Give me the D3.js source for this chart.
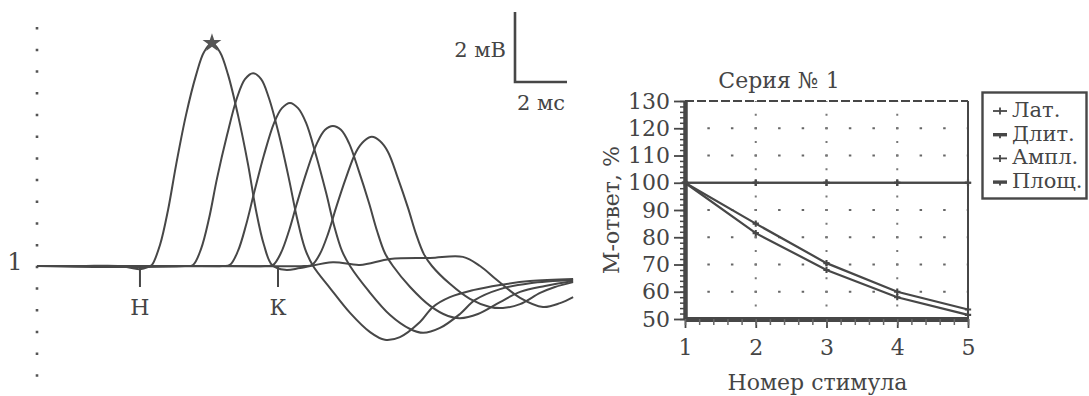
<!DOCTYPE html>
<html>
<head>
<meta charset="utf-8">
<script src="https://cdn.jsdelivr.net/npm/d3@7"></script>
<style>
  html, body { margin: 0; padding: 0; background: #fff; }
  svg { display: block; font-family: "DejaVu Serif", "Liberation Serif", serif; }
  text { fill: #454545; }
</style>
</head>
<body>
<svg id="chart" width="1089" height="396"></svg>
<script>
// ---- M-wave traces for stimuli 1..5: [time, ms ; potential, mV] ----
const wave1 = [[0,0],[1.65,0],[3.19,0],[3.65,-0.06],[3.96,-0.09],[4.27,-0.03],[4.42,0.03],[4.73,0.6],[5.04,1.6],[5.35,2.89],[5.73,4.31],[6.12,5.46],[6.42,6.11],[6.73,6.37],[7.04,6.11],[7.35,5.46],[7.73,4.31],[8.12,2.89],[8.42,1.6],[8.73,0.6],[9.04,0.03],[9.54,-0.11],[10.12,-0.06],[11.38,0.11],[12.42,0.03],[13.58,0.2],[15.12,0.23],[16.38,0.26],[17.04,0],[17.69,-0.4],[18.58,-0.91],[19.46,-1.17],[20.12,-1.06],[20.62,-0.89]];
const wave2 = [[0,0],[3.19,-0.03],[5.69,0],[6.0,0.03],[6.31,0.49],[6.62,1.37],[6.92,2.49],[7.31,3.74],[7.69,4.8],[8.0,5.34],[8.31,5.51],[8.62,5.34],[8.92,4.8],[9.31,3.74],[9.69,2.49],[10.0,1.37],[10.31,0.49],[10.62,0],[11.27,-0.63],[12.04,-1.34],[12.81,-1.89],[13.38,-2.11],[13.96,-2.03],[14.73,-1.6],[15.23,-1.17],[15.88,-0.89],[16.77,-0.69],[17.81,-0.54],[18.96,-0.43],[20.62,-0.37]];
const wave3 = [[0,0],[4.73,0],[7.12,0],[7.42,0.03],[7.73,0.43],[8.04,1.17],[8.35,2.09],[8.73,3.17],[9.12,4.09],[9.42,4.51],[9.73,4.66],[10.04,4.51],[10.35,4.09],[10.73,3.17],[11.12,2.09],[11.42,1.17],[11.73,0.43],[12.04,0],[12.73,-0.69],[13.58,-1.4],[14.35,-1.8],[14.85,-1.91],[15.5,-1.77],[16.27,-1.37],[16.85,-0.97],[17.81,-0.66],[18.96,-0.49],[20.62,-0.4]];
const wave4 = [[0,0],[6.27,0],[8.77,0],[9.08,0.03],[9.38,0.37],[9.69,1.0],[10.0,1.8],[10.38,2.71],[10.77,3.51],[11.08,3.89],[11.38,4.0],[11.69,3.89],[12.0,3.51],[12.38,2.71],[12.77,1.8],[13.08,1.0],[13.38,0.37],[13.69,0],[14.35,-0.6],[15.12,-1.14],[15.81,-1.43],[16.27,-1.49],[16.96,-1.37],[17.81,-1.03],[18.58,-0.74],[19.54,-0.57],[20.62,-0.43]];
const wave5 = [[0,0],[7.42,0],[10.27,0],[10.58,0.03],[10.88,0.34],[11.19,0.91],[11.5,1.66],[11.88,2.51],[12.27,3.26],[12.58,3.57],[12.88,3.69],[13.19,3.57],[13.5,3.26],[13.88,2.51],[14.27,1.66],[14.58,0.91],[14.88,0.34],[15.19,0],[15.88,-0.51],[16.65,-0.94],[17.42,-1.17],[17.92,-1.2],[18.58,-1.09],[19.35,-0.77],[19.92,-0.6],[20.62,-0.46]];
const traces = [wave1, wave2, wave3, wave4, wave5];
const traceLabel = "1";
const phaseMarks = [{ label: "Н", t: 3.96 }, { label: "К", t: 9.27 }];
const scaleBar = { mV: 2, ms: 2, mVLabel: "2 мВ", msLabel: "2 мс" };

// ---- Decrement test, series 1: % of first response ----
const stimuli = [1, 2, 3, 4, 5];
const latency = [100, 100, 100, 100, 100];
const duration = [100, 100, 100, 100, 100];
const amplitude = [100, 85, 70.5, 60, 53.5];
const area = [100, 81.5, 68, 58, 51.5];
const seriesNames = ["Лат.", "Длит.", "Ампл.", "Площ."];
const yTickValues = [50, 60, 70, 80, 90, 100, 110, 120, 130];
const xTickValues = [1, 2, 3, 4, 5];
const chartTitle = "Серия № 1";
const xTitle = "Номер стимула";
const yTitle = "М-ответ, %";

const ink = "#474747";
const svg = d3.select("#chart");

// ================= left panel: overlaid M-responses =================
const tx = d3.scaleLinear().domain([0, 2]).range([37, 89]);     // 26 px per ms
const vy = d3.scaleLinear().domain([0, 2]).range([266, 196]);   // 35 px per mV
const left = svg.append("g");

// dotted reference axis
left.append("line")
  .attr("x1", tx(0)).attr("x2", tx(0))
  .attr("y1", vy(6.83)).attr("y2", vy(-3.25))
  .attr("stroke", "#555").attr("stroke-width", 2.6)
  .attr("stroke-dasharray", "2.5 19.2");

const traceLine = d3.line()
  .x(d => tx(d[0])).y(d => vy(d[1]))
  .curve(d3.curveCatmullRom.alpha(0.5));

left.selectAll("path.trace").data(traces).join("path")
  .attr("class", "trace")
  .attr("d", traceLine)
  .attr("fill", "none")
  .attr("stroke", ink)
  .attr("stroke-width", 2)
  .attr("stroke-linejoin", "round");

// star at the peak of the first response
const peak = d3.greatest(wave1, d => d[1]);
left.append("path")
  .attr("d", d3.symbol(d3.symbolStar, 110)())
  .attr("transform", `translate(${tx(peak[0])},${vy(peak[1])})`)
  .attr("fill", "#555");

// onset / end marks
const marks = left.selectAll("g.mark").data(phaseMarks).join("g")
  .attr("class", "mark")
  .attr("transform", d => `translate(${tx(d.t)},0)`);
marks.append("line")
  .attr("y1", vy(0)).attr("y2", vy(-0.6))
  .attr("stroke", ink).attr("stroke-width", 2);
marks.append("text")
  .attr("y", vy(-1.4))
  .attr("text-anchor", "middle")
  .attr("font-size", 22)
  .text(d => d.label);

left.append("text")
  .attr("x", 15).attr("y", vy(0) + 4)
  .attr("text-anchor", "middle")
  .attr("font-size", 24)
  .text(traceLabel);

// calibration bar
const barX = 515, barY = 82;
left.append("path")
  .attr("d", `M${barX},${barY - (vy(0) - vy(scaleBar.mV))}V${barY}H${barX + (tx(scaleBar.ms) - tx(0))}`)
  .attr("fill", "none").attr("stroke", ink).attr("stroke-width", 2.6);
left.append("text")
  .attr("x", barX - 9).attr("y", 57)
  .attr("text-anchor", "end").attr("font-size", 21)
  .text(scaleBar.mVLabel);
left.append("text")
  .attr("x", barX + 2).attr("y", 110)
  .attr("font-size", 21)
  .text(scaleBar.msLabel);

// ================= right panel: decrement plot =================
const xs = d3.scaleLinear().domain([1, 5]).range([685, 968]);
const ys = d3.scaleLinear().domain([50, 130]).range([319, 101]);
const right = svg.append("g");

// dotted grid
const hStep = (xs(2) - xs(1)) / 3;
const vStep = ys(50) - ys(55);
right.selectAll("line.hgrid").data(yTickValues.filter(v => v !== 50 && v !== 100 && v !== 130)).join("line")
  .attr("class", "hgrid")
  .attr("x1", xs(1)).attr("x2", xs(5))
  .attr("y1", d => ys(d)).attr("y2", d => ys(d))
  .attr("stroke", "#666").attr("stroke-width", 2.2)
  .attr("stroke-dasharray", `2.5 ${hStep - 2.5}`)
  .attr("stroke-dashoffset", 1.25);
right.selectAll("line.vgrid").data([2, 3, 4, 5]).join("line")
  .attr("class", "vgrid")
  .attr("x1", d => xs(d)).attr("x2", d => xs(d))
  .attr("y1", ys(50)).attr("y2", ys(130))
  .attr("stroke", "#777").attr("stroke-width", 2)
  .attr("stroke-dasharray", `2 ${vStep - 2}`)
  .attr("stroke-dashoffset", 1);

// frame: dashed top, solid right
right.append("line")
  .attr("x1", xs(1)).attr("x2", xs(5)).attr("y1", ys(130)).attr("y2", ys(130))
  .attr("stroke", ink).attr("stroke-width", 2.2).attr("stroke-dasharray", "9 3");
right.append("line")
  .attr("x1", xs(5)).attr("x2", xs(5)).attr("y1", ys(130)).attr("y2", ys(50))
  .attr("stroke", ink).attr("stroke-width", 2);

// y axis with dense minor ticks
const yAxis = right.append("g").attr("transform", `translate(${xs(1)},0)`)
  .call(d3.axisLeft(ys).tickValues(yTickValues).tickSize(11).tickSizeOuter(0).tickPadding(4));
yAxis.select(".domain").attr("stroke", ink).attr("stroke-width", 4.5);
yAxis.selectAll(".tick line").attr("stroke", ink).attr("stroke-width", 1.8);
yAxis.selectAll("text").attr("font-size", 22).attr("font-family", "DejaVu Serif").attr("fill", "#454545");
right.append("g").attr("transform", `translate(${xs(1)},0)`)
  .call(d3.axisLeft(ys).tickValues(d3.range(50, 131, 2)).tickSize(5).tickFormat(""))
  .call(g => g.select(".domain").remove())
  .selectAll("line").attr("stroke", ink).attr("stroke-width", 1.5);

// x axis with minor ticks
const xAxis = right.append("g").attr("transform", `translate(0,${ys(50)})`)
  .call(d3.axisBottom(xs).tickValues(xTickValues).tickFormat(d3.format("d"))
    .tickSize(9).tickSizeOuter(0).tickPadding(11));
xAxis.select(".domain").attr("stroke", ink).attr("stroke-width", 5);
xAxis.selectAll(".tick line").attr("stroke", ink).attr("stroke-width", 1.8);
xAxis.selectAll("text").attr("font-size", 22).attr("font-family", "DejaVu Serif").attr("fill", "#454545");
right.append("g").attr("transform", `translate(0,${ys(50)})`)
  .call(d3.axisBottom(xs).tickValues(d3.range(1, 5.01, 0.2)).tickSize(6).tickFormat(""))
  .call(g => g.select(".domain").remove())
  .selectAll("line").attr("stroke", "#666").attr("stroke-width", 1.5);

// series lines
const seriesData = [latency, duration, amplitude, area].map((vals, i) => ({
  name: seriesNames[i],
  points: stimuli.map((s, j) => [s, vals[j]])
}));
const seriesLine = d3.line().x(d => xs(d[0])).y(d => ys(d[1]));
right.selectAll("path.series").data(seriesData).join("path")
  .attr("class", "series")
  .attr("d", d => seriesLine(d.points))
  .attr("fill", "none").attr("stroke", ink).attr("stroke-width", 2.2);
right.selectAll("g.pts").data(seriesData).join("g")
  .attr("class", "pts")
  .selectAll("path").data(d => d.points).join("path")
  .attr("d", d3.symbol(d3.symbolCross, 22)())
  .attr("transform", d => `translate(${xs(d[0])},${ys(d[1])})`)
  .attr("fill", ink);

// titles
right.append("text")
  .attr("x", 779).attr("y", 88)
  .attr("text-anchor", "middle").attr("font-size", 22)
  .text(chartTitle);
right.append("text")
  .attr("x", (xs(1) + xs(5)) / 2 - 9).attr("y", 390)
  .attr("text-anchor", "middle").attr("font-size", 22)
  .text(xTitle);
right.append("text")
  .attr("transform", `translate(619,${(ys(50) + ys(130)) / 2}) rotate(-90)`)
  .attr("text-anchor", "middle").attr("font-size", 22)
  .text(yTitle);

// legend
const legend = right.append("g");
legend.append("rect")
  .attr("x", 982.5).attr("y", 92.5).attr("width", 104).attr("height", 106)
  .attr("fill", "#fff").attr("stroke", ink).attr("stroke-width", 2.4);
const items = legend.selectAll("g.item").data(seriesNames).join("g")
  .attr("class", "item")
  .attr("transform", (d, i) => `translate(0,${117 + i * 23.7})`);
items.append("line")
  .attr("x1", 993).attr("x2", 1007).attr("y1", -6).attr("y2", -6)
  .attr("stroke", ink).attr("stroke-width", (d, i) => i % 2 ? 3.4 : 1.8);
items.append("line")
  .attr("x1", 1000).attr("x2", 1000)
  .attr("y1", (d, i) => i % 2 ? -6 : -9.5).attr("y2", -2.5)
  .attr("stroke", ink).attr("stroke-width", 1.8);
items.append("text")
  .attr("x", 1012).attr("y", 0)
  .attr("font-size", 21)
  .text(d => d);
</script>
</body>
</html>
